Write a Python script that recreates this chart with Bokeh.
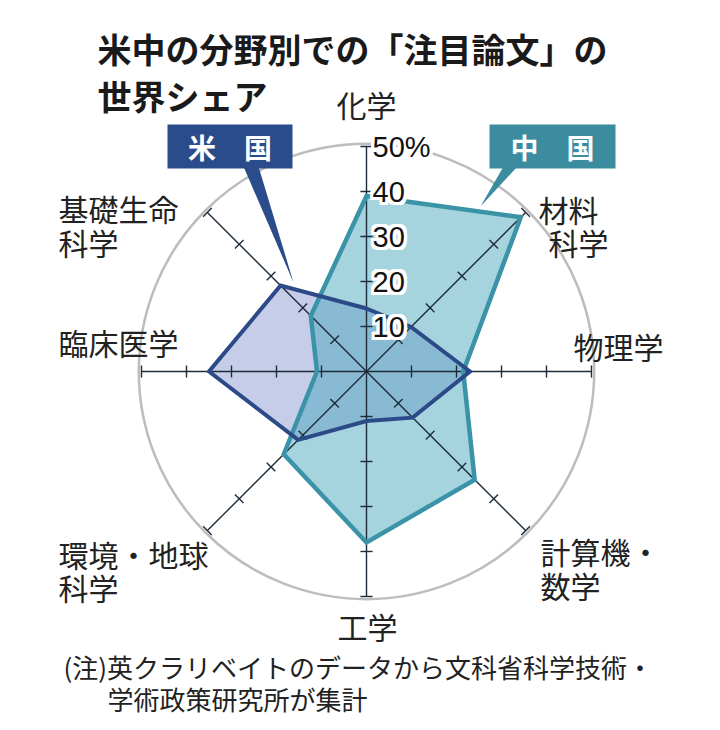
import numpy as np
from bokeh.plotting import figure
from bokeh.models import Range1d
from bokeh.embed import file_html
from bokeh.resources import INLINE
from bokeh.core.properties import value

# ---------------- data ----------------
categories = ["化学", "材料科学", "物理学", "計算機・数学", "工学", "環境・地球科学", "臨床医学", "基礎生命科学"]
us_share = [14, 14, 23, 14.5, 11, 21.5, 35, 27]
china_share = [39, 48.5, 21.5, 34, 38, 26, 11, 17.5]
tick_values = [10, 20, 30, 40, 50]
tick_labels = ["10", "20", "30", "40", "50%"]
series_names = ["米\u3000国", "中\u3000国"]
title_lines = ["米中の分野別での「注目論文」の", "世界シェア"]
note_lines = ["(注)英クラリベイトのデータから文科省科学技術・", "学術政策研究所が集計"]

# ---------------- layout ----------------
W, H = 718, 728
PX = 4.5            # pixels per percentage point
CX, CY = 366, 371   # radar centre in figure pixels (from top-left)
R_MAX = 50

JP = value("Noto Sans CJK JP")
NUM = value("Liberation Sans")

US_FILL, US_LINE, US_BOX = "#c5cde9", "#2c4a87", "#2b4c8a"
CH_FILL, CH_LINE, CH_BOX = "#4caabd", "#3b93a7", "#3a8c9e"
AXIS_C = "#1e2b38"
TXT = "#222222"

p = figure(width=W, height=H, output_backend="svg", toolbar_location=None,
           x_range=Range1d(-CX / PX, (W - CX) / PX),
           y_range=Range1d(-(H - CY) / PX, CY / PX),
           x_axis_location=None, y_axis_location=None, min_border=0)
p.outline_line_color = None
p.grid.visible = False
p.background_fill_color = "white"
p.border_fill_color = "white"


def ref(x, y):
    """reference-image pixel -> data units"""
    return ((x - CX) / PX, (CY - y) / PX)


n = len(categories)
ang = np.deg2rad(90 - 45 * np.arange(n))


def poly(vals):
    v = np.asarray(vals, dtype=float)
    return list(v * np.cos(ang)), list(v * np.sin(ang))


# outer circle
p.circle(x=[0], y=[0], radius=R_MAX + 0.6, fill_color=None, line_color="#bdbdbd", line_width=2.5)

# fills
ux, uy = poly(us_share)
cx_, cy_ = poly(china_share)
p.patch(ux, uy, fill_color=US_FILL, line_color=None)
p.patch(cx_, cy_, fill_color=CH_FILL, fill_alpha=0.5, line_color=None)

# axes
p.segment(x0=[0] * n, y0=[0] * n, x1=list(R_MAX * np.cos(ang)), y1=list(R_MAX * np.sin(ang)),
          line_color=AXIS_C, line_width=1.4)
# tick marks
h = 1.35
tx0, ty0, tx1, ty1 = [], [], [], []
for a in ang:
    for r in tick_values:
        mx, my = r * np.cos(a), r * np.sin(a)
        px_, py_ = -np.sin(a) * h, np.cos(a) * h
        tx0.append(mx - px_); ty0.append(my - py_)
        tx1.append(mx + px_); ty1.append(my + py_)
p.segment(x0=tx0, y0=ty0, x1=tx1, y1=ty1, line_color=AXIS_C, line_width=1.4)

# outlines
p.patch(cx_, cy_, fill_color=None, line_color=CH_LINE, line_width=4.5, line_join="miter")
p.patch(ux, uy, fill_color=None, line_color=US_LINE, line_width=4, line_join="miter")

# tick labels with white halo
offs = [(dx, dy) for dx in (-3, -1.5, 0, 1.5, 3) for dy in (-3, -1.5, 0, 1.5, 3) if (dx, dy) != (0, 0)]
for dx, dy in offs:
    p.text(x=[0] * len(tick_values), y=tick_values, text=tick_labels, x_offset=6 + dx, y_offset=dy,
           text_color="white", text_font=NUM, text_font_size="29px",
           text_align="left", text_baseline="middle")
p.text(x=[0] * len(tick_values), y=tick_values, text=tick_labels, x_offset=6,
       text_color="#111111", text_font=NUM, text_font_size="29px",
       text_align="left", text_baseline="middle")

# legend callouts
for (l, t, r_, b), (bx0, bx1, tipx, tipy), col, name in [
        ((167, 124, 292, 168), (243, 258, 293, 282), US_BOX, series_names[0]),
        ((489, 124, 615, 168), (503, 517, 480, 206), CH_BOX, series_names[1])]:
    L, T = ref(l, t)
    R, B = ref(r_, b)
    p.quad(left=[L], right=[R], top=[T], bottom=[B], fill_color=col, line_color=None)
    a0 = ref(bx0, b - 2); a1 = ref(bx1, b - 2); tp = ref(tipx, tipy)
    p.patch([a0[0], a1[0], tp[0]], [a0[1], a1[1], tp[1]], fill_color=col, line_color=None)
    cx0, cy0 = ref((l + r_) / 2, (t + b) / 2)
    p.text(x=[cx0], y=[cy0], text=[name], text_color="white", text_font=JP, text_font_size="28px",
           text_font_style="bold", text_align="center", text_baseline="middle")

# category labels (reference positions)
label_spec = [
    ("化学", 366, 103, "center"),
    ("材料", 538, 208, "left"), ("科学", 548, 241, "left"),
    ("物理学", 573, 345, "left"),
    ("計算機・", 540, 550, "left"), ("数学", 540, 584, "left"),
    ("工学", 367, 625, "center"),
    ("環境・地球", 58, 553, "left"), ("科学", 58, 586, "left"),
    ("臨床医学", 58, 341, "left"),
    ("基礎生命", 58, 207, "left"), ("科学", 58, 241, "left"),
]
for txt, x, y, al in label_spec:
    dx_, dy_ = ref(x, y)
    p.text(x=[dx_], y=[dy_], text=[txt], text_color=TXT, text_font=JP, text_font_size="30px",
           text_align=al, text_baseline="middle")

# title
for i, line in enumerate(title_lines):
    dx_, dy_ = ref(97, 48 + 47 * i)
    p.text(x=[dx_], y=[dy_], text=[line], text_color="#1a1a1a", text_font=JP, text_font_size="34px",
           text_font_style="bold", text_align="left", text_baseline="middle")

# footnote
for (x, y), line in zip([(63, 666), (107, 698)], note_lines):
    dx_, dy_ = ref(x, y)
    p.text(x=[dx_], y=[dy_], text=[line], text_color=TXT, text_font=JP, text_font_size="26px",
           text_align="left", text_baseline="middle")

open("out.html", "w").write(file_html(p, INLINE))
